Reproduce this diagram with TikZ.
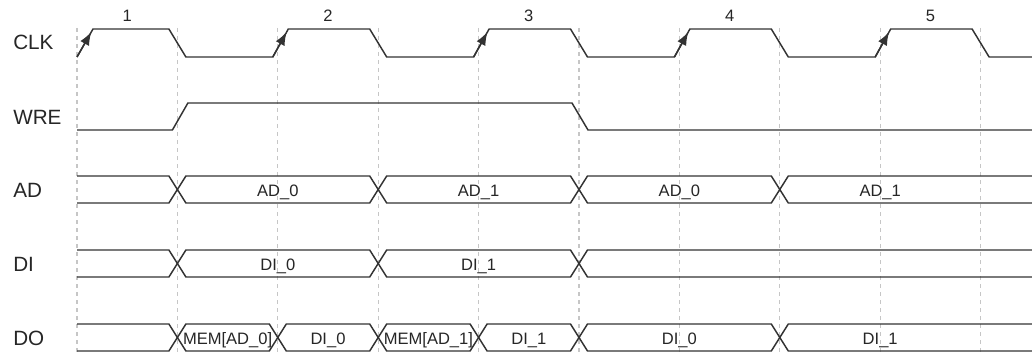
\documentclass[tikz,border=0pt]{standalone}
\usepackage{fontspec}
\setmainfont{Liberation Sans}
\usetikzlibrary{arrows.meta}

\begin{document}
\begin{tikzpicture}[x=0.75pt, y=-0.75pt,
		wave/.style={line width=1.1pt, black!80},
		gridline/.style={gray!45, line width=0.8pt, dash pattern=on 3pt off 3pt},
		siglabel/.style={anchor=base west, inner sep=0pt, text=black!85, font=\fontsize{15.5}{18}\selectfont},
		buslabel/.style={anchor=base, inner sep=0pt, text=black!85, font=\fontsize{12.4}{14}\selectfont},
		clkarrow/.style={wave, -{Latex[length=10pt,width=7.5pt]}, shorten >=2.5pt}]
		\useasboundingbox (0,0) rectangle (1032,353);
		\fill[white] (0,0) rectangle (1032,353);
		\foreach \x in {77,177.4,...,981} \draw[gridline] (\x,28) -- (\x,353);
		\node[siglabel] (clk) at (13,50) {CLK};
		\node[siglabel] (wre) at (13,124.5) {WRE};
		\node[siglabel] (ad) at (13,197.5) {AD};
		\node[siglabel] (di) at (13,271.5) {DI};
		\node[siglabel] (do) at (13,345) {DO};
		\foreach \n in {1,...,5} \node[buslabel] (cyc\n) at ({127.2+200.8*(\n-1)},21.5) {\n};
		% CLK
		\draw[wave] (77,57) -- (93,29) -- (168.9,29) -- (185.9,57) -- (272.8,57) -- (288.3,29) -- (369.7,29) -- (386.7,57) -- (473.6,57) -- (489.1,29) -- (570.5,29) -- (587.5,57) -- (674.4,57) -- (689.9,29) -- (771.3,29) -- (788.3,57) -- (875.2,57) -- (890.7,29) -- (972.1,29) -- (989.1,57) -- (1032,57);
		\draw[clkarrow] (77,57) -- (93,29);
		\foreach \x in {272.8,473.6,674.4,875.2} \draw[clkarrow] (\x,57) -- ++(15.5,-28);
		% WRE
		\draw[wave] (77,130) -- (172.4,130) -- (187.9,103) -- (572,103) -- (588,130) -- (1032,130);
		% AD
		\draw[wave] (77,176) -- (168.9,176) -- (177.4,189.5) -- (168.9,203) -- (77,203);
		\foreach \a/\b/\t [count=\i] in {177.4/378.2/AD\_0, 378.2/579/AD\_1, 579/779.8/AD\_0} {
			\draw[wave] ({\a+8.5},176) -- ({\b-8.5},176) -- (\b,189.5) -- ({\b-8.5},203) -- ({\a+8.5},203) -- (\a,189.5) -- cycle;
			\node[buslabel] (adval\i) at ({(\a+\b)/2},196) {\t};
		}
		\draw[wave] (1032,176) -- (788.3,176) -- (779.8,189.5) -- (788.3,203) -- (1032,203);
		\node[buslabel] (adval4) at (880.2,196) {AD\_1};
		% DI
		\draw[wave] (77,250) -- (168.9,250) -- (177.4,263.5) -- (168.9,277) -- (77,277);
		\foreach \a/\b/\t [count=\i] in {177.4/378.2/DI\_0, 378.2/579/DI\_1} {
			\draw[wave] ({\a+8.5},250) -- ({\b-8.5},250) -- (\b,263.5) -- ({\b-8.5},277) -- ({\a+8.5},277) -- (\a,263.5) -- cycle;
			\node[buslabel] (dival\i) at ({(\a+\b)/2},270) {\t};
		}
		\draw[wave] (1032,250) -- (587.5,250) -- (579,263.5) -- (587.5,277) -- (1032,277);
		% DO
		\draw[wave] (77,324) -- (168.9,324) -- (177.4,337.5) -- (168.9,351) -- (77,351);
		\foreach \a/\b/\t [count=\i] in {177.4/277.8/{MEM[AD\_0]}, 277.8/378.2/DI\_0, 378.2/478.6/{MEM[AD\_1]}, 478.6/579/DI\_1, 579/779.8/DI\_0} {
			\draw[wave] ({\a+8.5},324) -- ({\b-8.5},324) -- (\b,337.5) -- ({\b-8.5},351) -- ({\a+8.5},351) -- (\a,337.5) -- cycle;
			\node[buslabel] (doval\i) at ({(\a+\b)/2},344) {\t};
		}
		\draw[wave] (1032,324) -- (788.3,324) -- (779.8,337.5) -- (788.3,351) -- (1032,351);
		\node[buslabel] (doval6) at (880.2,344) {DI\_1};
	\end{tikzpicture}
\end{document}
